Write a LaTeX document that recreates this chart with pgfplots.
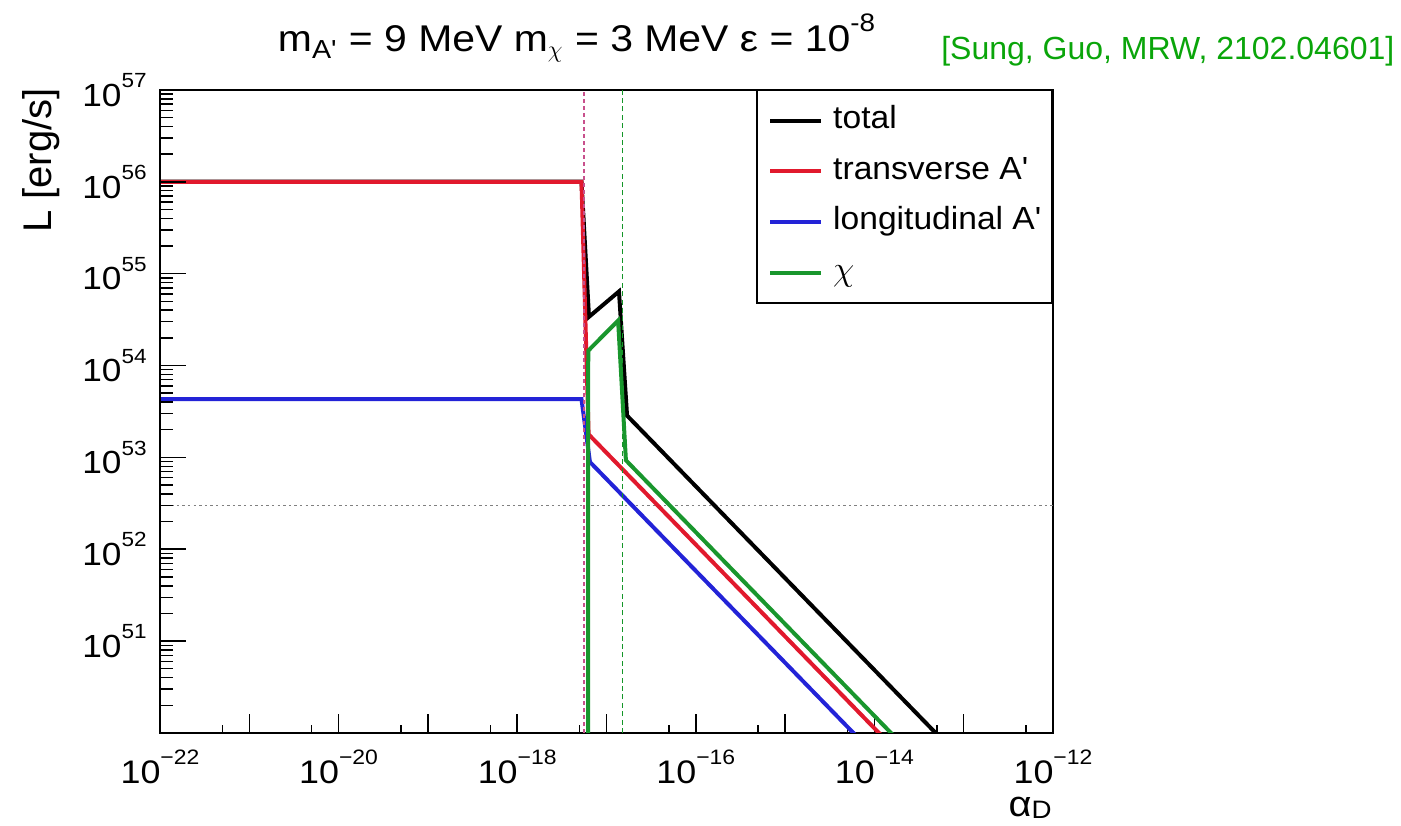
\documentclass[border=0pt]{standalone}
\usepackage{fontspec}
\setmainfont{Liberation Sans}
\newfontfamily\wide{Liberation Sans}[FakeStretch=1.1]
\newfontfamily\legf{Liberation Sans}[FakeStretch=1.05]
\usepackage{graphicx}
\usepackage{pgfplots}
\pgfplotsset{compat=1.18}
\definecolor{rootred}{RGB}{225,25,45}
\definecolor{rootblue}{RGB}{35,35,215}
\definecolor{rootgreen}{RGB}{25,150,45}
\definecolor{dashpurple}{RGB}{200,80,140}
\definecolor{dashgreen}{RGB}{20,150,40}
\definecolor{citegreen}{RGB}{10,165,10}
\newcommand\tp[1]{10\raisebox{0.58em}{\scalebox{0.64}{#1}}}
\newcommand\leg[1]{\makebox[104pt][l]{#1}}
\begin{document}
\begin{tikzpicture}[x=1pt,y=1pt]
\useasboundingbox (0,0) rectangle (700.5,412.5);
\begin{axis}[
  at={(80pt,46pt)}, anchor=south west, scale only axis,
  width=446.5pt, height=321.5pt,
  xmode=log, ymode=log,
  xmin=1e-22, xmax=1e-12, ymin=1e50, ymax=1e57,
  axis line style={line width=1pt},
  xtick={1e-22,1e-21,1e-20,1e-19,1e-18,1e-17,1e-16,1e-15,1e-14,1e-13,1e-12},
  xticklabels={\tp{−22},,\tp{−20},,\tp{−18},,\tp{−16},,\tp{−14},,\tp{−12}},
  minor xtick={5e-22,5e-21,5e-20,5e-19,5e-18,5e-17,5e-16,5e-15,5e-14,5e-13},
  xtick pos=bottom, ytick=\empty,
  tick align=inside,
  major tick length=9.5pt, minor tick length=4pt,
  tick style={line width=0.75pt, black},
  xticklabel style={font=\wide\fontsize{16.3}{16.3}\selectfont, inner sep=0pt, yshift=-8.5pt},
  legend cell align=left,
  legend style={at={(rel axis cs:1,1)}, anchor=north east, draw=black, line width=0.75pt,
    fill=white, inner xsep=5.5pt, inner ysep=7.3pt, row sep=9.85pt, column sep=5pt,
    font=\legf\fontsize{16}{16}\selectfont,
    nodes={inner sep=0pt, text height=11.6pt, text depth=3.9pt}},
  legend image code/.code={\draw[#1] (0pt,0pt) -- (25.5pt,0pt);},
]
\addplot[gray, line width=0.7pt, dash pattern=on 1.2pt off 1.6pt, forget plot] coordinates {(1e-22,3e52) (1e-12,3e52)};
\addplot[black, line width=2pt] coordinates {(1e-22,1.004e56) (5.25e-18,1.004e56) (6.37e-18,3.39e54) (1.38e-17,6.4e54) (1.70e-17,2.85e53) (1e-13,4.85e49)};
\addlegendentry{\leg{total}}
\addplot[rootred, line width=2pt] coordinates {(1e-22,1e56) (5.25e-18,1e56) (6.31e-18,1.78e53) (2e-14,5.62e49)};
\addlegendentry{\leg{transverse A'}}
\addplot[rootblue, line width=2pt] coordinates {(1e-22,4.3e53) (5.25e-18,4.3e53) (6.53e-18,8.9e52) (2e-14,2.91e49)};
\addlegendentry{\leg{longitudinal A'}}
\addplot[rootgreen, line width=2pt] coordinates {(6.2e-18,1e47) (6.25e-18,1.45e54) (1.35e-17,3.09e54) (1.65e-17,9.3e52) (2e-14,7.67e49)};
\addlegendentry{\leg{$\chi$}}
\addplot[dashpurple, line width=1.2pt, dash pattern=on 2pt off 1.5pt, forget plot] coordinates {(5.6e-18,1e50) (5.6e-18,1e57)};
\addplot[dashgreen, line width=0.6pt, dash pattern=on 2.5pt off 1.7pt, forget plot] coordinates {(1.5e-17,1e50) (1.5e-17,1e57)};
\end{axis}
\begin{axis}[
  at={(80pt,46pt)}, anchor=south west, scale only axis,
  width=446.5pt, height=321.5pt,
  xmode=log, ymode=log,
  xmin=1e-22, xmax=1e-12, ymin=1e50, ymax=1e57,
  axis x line=none, axis y line=left,
  y axis line style={-, line width=1pt},
  xtick=\empty,
  ytick={1e50,1e51,1e52,1e53,1e54,1e55,1e56,1e57},
  yticklabels={,\tp{51},\tp{52},\tp{53},\tp{54},\tp{55},\tp{56},\tp{57}},
  minor ytick={2e50,3e50,4e50,5e50,6e50,7e50,8e50,9e50,
    2e51,3e51,4e51,5e51,6e51,7e51,8e51,9e51,
    2e52,3e52,4e52,5e52,6e52,7e52,8e52,9e52,
    2e53,3e53,4e53,5e53,6e53,7e53,8e53,9e53,
    2e54,3e54,4e54,5e54,6e54,7e54,8e54,9e54,
    2e55,3e55,4e55,5e55,6e55,7e55,8e55,9e55,
    2e56,3e56,4e56,5e56,6e56,7e56,8e56,9e56},
  tick align=inside,
  major tick length=13pt, minor tick length=6.5pt,
  tick style={line width=0.75pt, black},
  yticklabel style={font=\wide\fontsize{16}{16}\selectfont, inner sep=0pt, xshift=-6.5pt},
]
\end{axis}
\node[anchor=base] at (288.25,386.5) {\wide\fontsize{18.6}{18.6}\selectfont m\textsubscript{A'} = 9 MeV m\textsubscript{$\chi$} = 3 MeV ε = 10\raisebox{0.55em}{\scalebox{0.68}{-8}}};
\node[anchor=base, text=citegreen] at (583.9,382.8) {\fontsize{16}{16}\selectfont [Sung, Guo, MRW, 2102.04601]};
\node[rotate=90, anchor=base east, inner sep=0pt] at (25.5,368.5) {\fontsize{20}{20}\selectfont L [erg/s]};
\node[anchor=base east, inner sep=0pt] at (526,4.5) {\wide\fontsize{18}{18}\selectfont α\raisebox{-0.08em}{\scalebox{0.7}{D}}};
\end{tikzpicture}
\end{document}
